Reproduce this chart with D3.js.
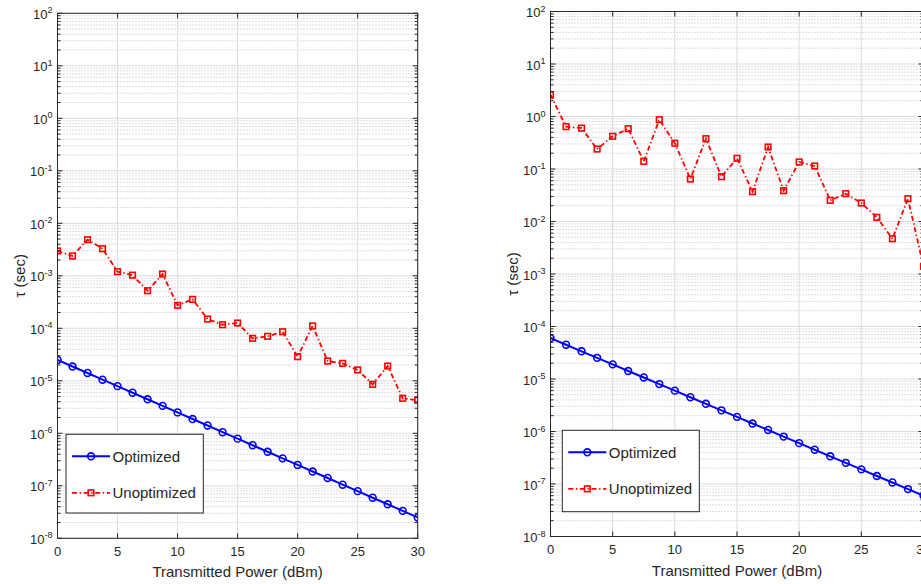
<!DOCTYPE html>
<html>
<head>
<meta charset="utf-8">
<script src="https://cdn.jsdelivr.net/npm/d3@7"></script>
<style>
  body { margin: 0; background: #fff; }
  svg { display: block; }
  text { font-family: "Liberation Sans", Arial, Helvetica, sans-serif; fill: #262626; }
</style>
</head>
<body>
<svg id="fig" width="921" height="584"></svg>
<script>
// Transmitted power samples (dBm)
const powerDbm = [0, 1.25, 2.5, 3.75, 5, 6.25, 7.5, 8.75, 10, 11.25, 12.5, 13.75, 15,
                  16.25, 17.5, 18.75, 20, 21.25, 22.5, 23.75, 25, 26.25, 27.5, 28.75, 30];

// Left figure: latency tau (sec)
const tauOptimizedA = [2.50e-5, 1.87e-5, 1.41e-5, 1.05e-5, 7.91e-6, 5.93e-6, 4.45e-6, 3.33e-6,
                       2.50e-6, 1.87e-6, 1.41e-6, 1.05e-6, 7.91e-7, 5.93e-7, 4.45e-7, 3.33e-7,
                       2.50e-7, 1.87e-7, 1.41e-7, 1.05e-7, 7.91e-8, 5.93e-8, 4.45e-8, 3.33e-8, 2.50e-8];
const tauUnoptimizedA = [2.97e-3, 2.38e-3, 4.87e-3, 3.28e-3, 1.20e-3, 1.03e-3, 5.2e-4, 1.08e-3,
                         2.74e-4, 3.56e-4, 1.50e-4, 1.17e-4, 1.26e-4, 6.45e-5, 7.03e-5, 8.6e-5,
                         2.88e-5, 1.11e-4, 2.38e-5, 2.15e-5, 1.61e-5, 8.57e-6, 1.91e-5, 4.64e-6, 4.25e-6];

// Right figure: latency tau (sec)
const tauOptimizedB = [6.0e-5, 4.5e-5, 3.37e-5, 2.53e-5, 1.90e-5, 1.42e-5, 1.07e-5, 8.0e-6,
                       6.0e-6, 4.5e-6, 3.37e-6, 2.53e-6, 1.90e-6, 1.42e-6, 1.07e-6, 8.0e-7,
                       6.0e-7, 4.5e-7, 3.37e-7, 2.53e-7, 1.90e-7, 1.42e-7, 1.07e-7, 8.0e-8, 6.0e-8];
const tauUnoptimizedB = [2.6, 0.64, 0.60, 0.24, 0.42, 0.586, 0.14, 0.87, 0.31, 0.0645, 0.378,
                         0.0714, 0.16, 0.037, 0.262, 0.0386, 0.136, 0.114, 0.0253, 0.0339,
                         0.0225, 0.012, 0.0047, 0.0272, 0.0014];

// Axis ticks and labels
const xTicks = [0, 5, 10, 15, 20, 25, 30];
const yExponents = [-8, -7, -6, -5, -4, -3, -2, -1, 0, 1, 2];
const seriesNames = ["Optimized", "Unoptimized"];
const xLabel = "Transmitted Power (dBm)";
const yLabel = "\u03C4 (sec)";

const panels = [
  { id: "a", left: 57.5, right: 417.7, top: 13.3, bottom: 538.3,
    optimized: tauOptimizedA, unoptimized: tauUnoptimizedA,
    legend: { x: 66, y: 434.3, w: 137.3, h: 78.7 } },
  { id: "b", left: 550.5, right: 923.5, top: 11.5, bottom: 536.5,
    optimized: tauOptimizedB, unoptimized: tauUnoptimizedB,
    legend: { x: 562.3, y: 430.3, w: 137, h: 81.4 } }
];

const svg = d3.select("#fig");
const axisColor = "#262626";
const blue = "#0000ff";
const red = "#ff0000";
const dashDot = "5,2.6,1.4,2.6";

panels.forEach(p => {
  const sx = d3.scaleLinear().domain([0, 30]).range([p.left, p.right]);
  const sy = d3.scaleLog().domain([1e-8, 1e2]).range([p.bottom, p.top]);
  const g = svg.append("g");

  g.append("clipPath").attr("id", "clip-" + p.id)
    .append("rect")
    .attr("x", p.left).attr("y", p.top)
    .attr("width", p.right - p.left).attr("height", p.bottom - p.top);

  // Minor grid (dotted) between decades
  const minorVals = [];
  yExponents.slice(0, -1).forEach(e => {
    for (let m = 2; m <= 9; m++) minorVals.push(m * Math.pow(10, e));
  });
  g.append("g").selectAll("line").data(minorVals).join("line")
    .attr("x1", p.left).attr("x2", p.right)
    .attr("y1", d => sy(d)).attr("y2", d => sy(d))
    .attr("stroke", "#bdbdbd").attr("stroke-width", 1)
    .attr("stroke-dasharray", "1,2");

  // Major grid
  const decades = yExponents.map(e => Math.pow(10, e));
  g.append("g").selectAll("line").data(decades).join("line")
    .attr("x1", p.left).attr("x2", p.right)
    .attr("y1", d => sy(d)).attr("y2", d => sy(d))
    .attr("stroke", "#dcdcdc").attr("stroke-width", 1);
  g.append("g").selectAll("line").data(xTicks).join("line")
    .attr("x1", d => sx(d)).attr("x2", d => sx(d))
    .attr("y1", p.top).attr("y2", p.bottom)
    .attr("stroke", "#dcdcdc").attr("stroke-width", 1);

  // Data series
  const plot = g.append("g").attr("clip-path", "url(#clip-" + p.id + ")");
  const line = d3.line().x((d, i) => sx(powerDbm[i])).y(d => sy(d));

  plot.append("path").datum(p.optimized).attr("d", line)
    .attr("fill", "none").attr("stroke", blue).attr("stroke-width", 2);
  plot.append("g").selectAll("circle").data(p.optimized).join("circle")
    .attr("cx", (d, i) => sx(powerDbm[i])).attr("cy", d => sy(d)).attr("r", 3.4)
    .attr("fill", "none").attr("stroke", blue).attr("stroke-width", 1.6);

  plot.append("path").datum(p.unoptimized).attr("d", line)
    .attr("fill", "none").attr("stroke", red).attr("stroke-width", 1.8)
    .attr("stroke-dasharray", dashDot);
  plot.append("g").selectAll("rect").data(p.unoptimized).join("rect")
    .attr("x", (d, i) => sx(powerDbm[i]) - 2.8).attr("y", d => sy(d) - 2.8)
    .attr("width", 5.6).attr("height", 5.6)
    .attr("fill", "none").attr("stroke", red).attr("stroke-width", 1.6);

  // Axes box with inward ticks
  const axes = g.append("g").attr("stroke", axisColor).attr("stroke-width", 1).attr("fill", "none");
  axes.append("rect").attr("x", p.left).attr("y", p.top)
    .attr("width", p.right - p.left).attr("height", p.bottom - p.top);
  xTicks.forEach(v => {
    axes.append("line").attr("x1", sx(v)).attr("x2", sx(v)).attr("y1", p.bottom).attr("y2", p.bottom - 5);
    axes.append("line").attr("x1", sx(v)).attr("x2", sx(v)).attr("y1", p.top).attr("y2", p.top + 5);
  });
  decades.forEach(v => {
    axes.append("line").attr("x1", p.left).attr("x2", p.left + 5).attr("y1", sy(v)).attr("y2", sy(v));
    axes.append("line").attr("x1", p.right).attr("x2", p.right - 5).attr("y1", sy(v)).attr("y2", sy(v));
  });
  minorVals.forEach(v => {
    axes.append("line").attr("x1", p.left).attr("x2", p.left + 3).attr("y1", sy(v)).attr("y2", sy(v));
    axes.append("line").attr("x1", p.right).attr("x2", p.right - 3).attr("y1", sy(v)).attr("y2", sy(v));
  });

  // Tick labels
  g.append("g").selectAll("text").data(xTicks).join("text")
    .attr("x", d => sx(d)).attr("y", p.bottom + 17.7)
    .attr("text-anchor", "middle").attr("font-size", 13)
    .text(d => d);

  const yl = g.append("g").selectAll("text").data(yExponents).join("text")
    .attr("x", p.left - 5).attr("y", d => sy(Math.pow(10, d)) + 5.5)
    .attr("text-anchor", "end").attr("font-size", 13);
  yl.append("tspan").text("10");
  yl.append("tspan").attr("dy", -5.5).attr("font-size", 9).text(d => d);

  // Axis titles
  g.append("text")
    .attr("x", (p.left + p.right) / 2).attr("y", p.bottom + 39)
    .attr("text-anchor", "middle").attr("font-size", 15)
    .text(xLabel);
  g.append("text")
    .attr("transform", `translate(${p.left - 32.5},${(p.top + p.bottom) / 2}) rotate(-90)`)
    .attr("text-anchor", "middle").attr("font-size", 15)
    .text(yLabel);

  // Legend
  const L = p.legend;
  const lg = g.append("g");
  lg.append("rect").attr("x", L.x).attr("y", L.y).attr("width", L.w).attr("height", L.h)
    .attr("fill", "#fff").attr("stroke", axisColor).attr("stroke-width", 1);
  const rows = [L.y + 22, L.y + 58.5];
  // Optimized entry
  lg.append("line").attr("x1", L.x + 6).attr("x2", L.x + 44)
    .attr("y1", rows[0]).attr("y2", rows[0])
    .attr("stroke", blue).attr("stroke-width", 2);
  lg.append("circle").attr("cx", L.x + 25).attr("cy", rows[0]).attr("r", 3.4)
    .attr("fill", "none").attr("stroke", blue).attr("stroke-width", 1.6);
  // Unoptimized entry
  lg.append("line").attr("x1", L.x + 6).attr("x2", L.x + 44)
    .attr("y1", rows[1]).attr("y2", rows[1])
    .attr("stroke", red).attr("stroke-width", 1.8).attr("stroke-dasharray", dashDot);
  lg.append("rect").attr("x", L.x + 25 - 2.8).attr("y", rows[1] - 2.8)
    .attr("width", 5.6).attr("height", 5.6)
    .attr("fill", "none").attr("stroke", red).attr("stroke-width", 1.6);
  seriesNames.forEach((name, i) => {
    lg.append("text").attr("x", L.x + 46.5).attr("y", rows[i] + 5.3)
      .attr("font-size", 15).text(name);
  });
});
</script>
</body>
</html>
